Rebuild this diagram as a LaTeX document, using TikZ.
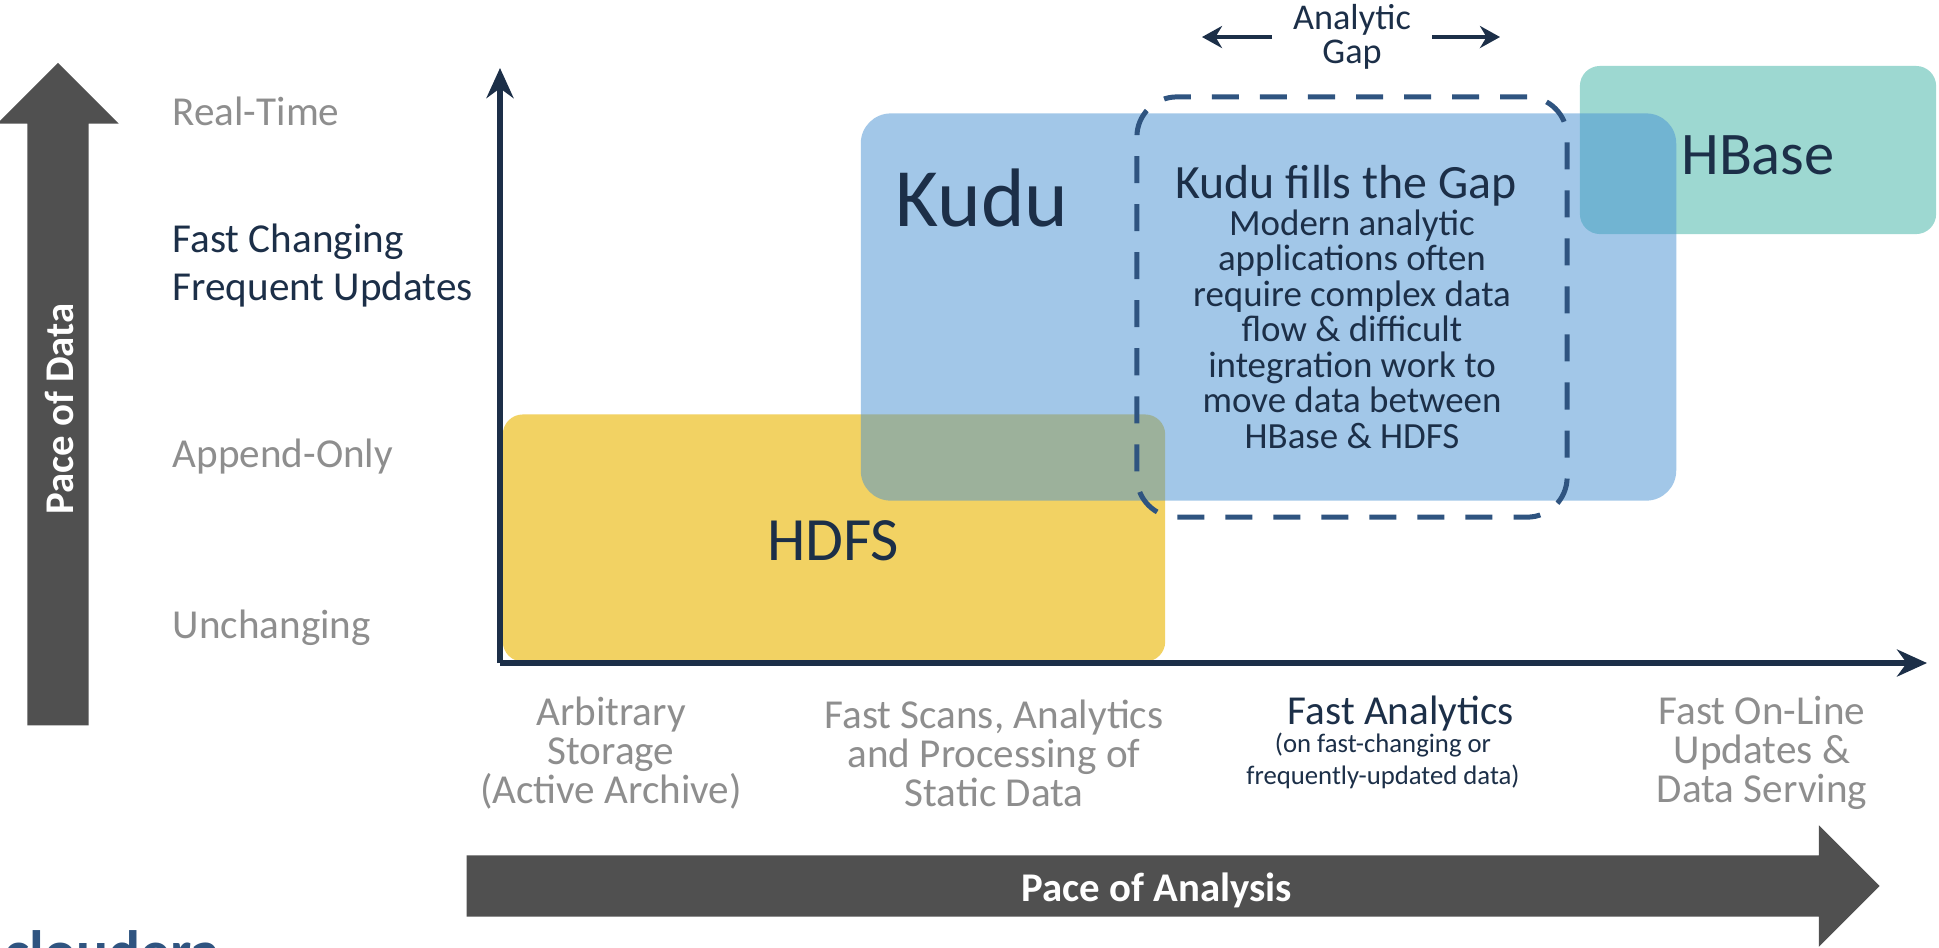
\documentclass[tikz,border=0pt]{standalone}
\usepackage{fontspec}
\setmainfont{Carlito}
\usetikzlibrary{
  arrows.meta,
  shapes.arrows,
}
\definecolor{axisblue}{HTML}{1C2F48}
\definecolor{gapblue}{HTML}{2F5480}
\definecolor{fatgray}{HTML}{505050}
\definecolor{softgray}{HTML}{8E8E8E}
\definecolor{hdfsyellow}{HTML}{F2D263}
\definecolor{kudublue}{HTML}{4791D3}
\definecolor{hbaseteal}{HTML}{3DB3A5}
\tikzset{
  area/.style={rounded corners=0.2cm, inner sep=0pt},
  fatarrow/.style={single arrow, fill=fatgray, inner xsep=0pt, inner ysep=0.3cm, minimum width=1.2cm,
    single arrow head extend=0.3cm, single arrow tip angle=90},
  fatlabel/.style={text=white, font=\fontsize{11.6}{12}\selectfont\bfseries},
  rowlabel/.style={anchor=west, inner sep=0pt, text=softgray, font=\fontsize{11.7}{12}\selectfont},
  collabel/.style={align=center, text=softgray, font=\fontsize{11.7}{11.1}\selectfont},
  axisline/.style={draw=axisblue, line width=0.055cm, -{Stealth[length=0.3cm,width=0.27cm]}},
  gapline/.style={draw=axisblue, line width=0.04cm, -{Stealth[length=0.2cm,width=0.22cm]}},
}
\begin{document}
\begin{tikzpicture}[x=0.01cm, y=-0.01cm]
\useasboundingbox (0,0) rectangle (1939,947);
\fill[white] (0,0) rectangle (1939,947);

\node[fatarrow, rotate=90, minimum height=6.62cm, anchor=tail] (dataarrow) at (58,726) {};
\node[fatlabel, rotate=90] (datalabel) at (59,409) {Pace of Data};
\node[fatarrow, minimum height=14.12cm, anchor=tail] (analysisarrow) at (466,886) {};
\node[fatlabel] (analysislabel) at (1157,890) {Pace of Analysis};

\node[area, fill=hdfsyellow, minimum width=6.62cm, minimum height=2.47cm] (hdfs) at (834,538) {};
\node[font=\fontsize{17.5}{20}\selectfont, text=axisblue] (hdfstext) at (833,541) {HDFS};
\node[area, fill=hbaseteal, fill opacity=0.5, minimum width=3.56cm, minimum height=1.68cm] (hbase) at (1758,150) {};
\node[area, rounded corners=0.3cm, fill=kudublue, fill opacity=0.5, minimum width=8.15cm, minimum height=3.87cm] (kudu) at (1268.5,307) {};
\node[font=\fontsize{17.2}{20}\selectfont, text=axisblue] (hbasetext) at (1758,155) {HBase};
\node[font=\fontsize{23.6}{30}\selectfont, text=axisblue] (kudutext) at (982,198) {Kudu};

\coordinate (origin) at (500,663);
\coordinate (ytop) at (500,68);
\coordinate (xend) at (1927,663);
\draw[axisline] (origin) -- (ytop);
\draw[axisline] (origin) -- (xend);

\node[draw=gapblue, line width=0.05cm, rounded corners=0.4cm, dash pattern=on 0.27cm off 0.21cm,
  inner sep=0pt, minimum width=4.3cm, minimum height=4.2cm] (gapbox) at (1352,307) {};
\node[font=\fontsize{13.6}{15}\selectfont, text=axisblue] (gaptitle) at (1346,186) {Kudu fills the Gap};
\node[align=center, anchor=north, font=\fontsize{10.5}{10.1}\selectfont, text=axisblue] (gapbody) at (1352,197)
  {Modern analytic\\applications often\\require complex data\\flow \& difficult\\integration work to\\move data between\\HBase \& HDFS};

\node[align=center, font=\fontsize{10.3}{9.5}\selectfont, text=axisblue] (gaplabel) at (1352,37) {Analytic\\Gap};
\coordinate (gapleftstart) at (1272,37);
\coordinate (gapleftend) at (1202,37);
\coordinate (gaprightstart) at (1432,37);
\coordinate (gaprightend) at (1500,37);
\draw[gapline] (gapleftstart) -- (gapleftend);
\draw[gapline] (gaprightstart) -- (gaprightend);

\node[rowlabel] (realtime) at (172,111) {Real-Time};
\node[rowlabel, text=axisblue] (changing) at (172,242) {Fast Changing};
\node[rowlabel, text=axisblue] (frequent) at (172,290) {Frequent Updates};
\node[rowlabel] (append) at (172,457) {Append-Only};
\node[rowlabel] (unchanging) at (172,628) {Unchanging};

\node[collabel] (storage) at (611,753) {Arbitrary\\Storage\\(Active Archive)};
\node[collabel] (scans) at (994,753) {Fast Scans, Analytics\\and Processing of\\Static Data};
\node[collabel, text=axisblue] (analytics) at (1401,714) {Fast Analytics};
\node[align=center, font=\fontsize{7.6}{8.9}\selectfont, text=axisblue] (analyticsnote) at (1383,761) {(on fast-changing  or\\frequently-updated data)};
\node[collabel] (online) at (1762,753) {Fast On-Line\\Updates \&\\Data Serving};

\node[anchor=base west, inner sep=0pt, text=gapblue, font=\fontsize{17}{20}\selectfont\bfseries] (logo) at (4,972) {cloudera};
\end{tikzpicture}
\end{document}
